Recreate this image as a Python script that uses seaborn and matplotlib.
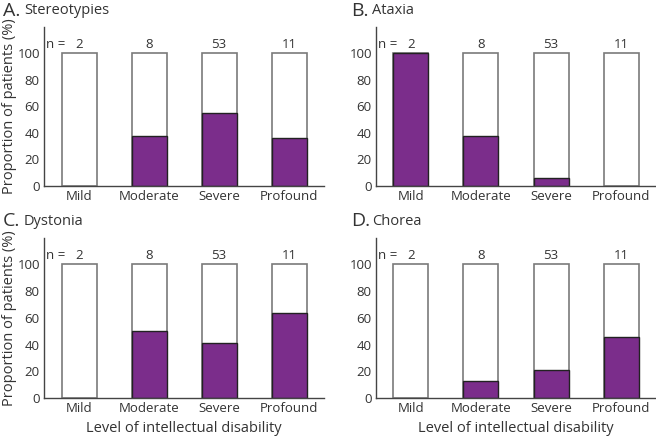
import matplotlib
matplotlib.use("Agg")
import matplotlib.pyplot as plt
import seaborn as sns
import pandas as pd

# datos
niveles = ["Mild", "Moderate", "Severe", "Profound"]
n_pacientes = [2, 8, 53, 11]
estereotipias = [0, 37.5, 54.7, 36.4]
ataxia = [100, 37.5, 5.7, 0]
distonia = [0, 50.0, 41.5, 63.6]
corea = [0, 12.5, 20.8, 45.5]

paneles = [
    ("A.", "Stereotypies", estereotipias),
    ("B.", "Ataxia", ataxia),
    ("C.", "Dystonia", distonia),
    ("D.", "Chorea", corea),
]

morado = "#7b2d8b"
gris = "#7a7a7a"
texto = "#333333"

sns.set_style("white")
plt.rcParams["font.family"] = ["Open Sans", "DejaVu Sans"]
plt.rcParams["text.color"] = texto
plt.rcParams["axes.labelcolor"] = texto
plt.rcParams["xtick.color"] = texto
plt.rcParams["ytick.color"] = texto

W, H = 656, 437
fig = plt.figure(figsize=(W / 100, H / 100), dpi=100)

# posiciones en pixeles: (izquierda, arriba, abajo)
cajas = [(44, 27, 186), (376, 27, 186), (44, 238, 398), (376, 238, 398)]
titulos_pos = [(3, 11), (351, 11), (3, 221), (351, 221)]

for i, (letra, nombre, valores) in enumerate(paneles):
    izq, arriba, abajo = cajas[i]
    ax = fig.add_axes([izq / W, 1 - abajo / H, 280 / W, (abajo - arriba) / H])

    df = pd.DataFrame({"nivel": niveles, "total": [100] * 4, "pct": valores})

    sns.barplot(data=df, x="nivel", y="total", color="white",
                edgecolor=gris, linewidth=1.2, width=0.5, ax=ax)
    sns.barplot(data=df, x="nivel", y="pct", color=morado,
                edgecolor="#222222", linewidth=1.0, width=0.5, ax=ax,
                saturation=1)
    # sin borde negro en barras de altura cero
    for p in ax.patches[4:]:
        if p.get_height() == 0:
            p.set_linewidth(0)

    escala = 100 / (abajo - arriba - 25)
    ax.set_ylim(0, 100 + 25 * escala * 1.07)
    ax.set_xlim(-0.5, 3.5)
    ax.set_yticks([0, 20, 40, 60, 80, 100])
    ax.tick_params(axis="y", length=0, labelsize=9.5, pad=3)
    ax.tick_params(axis="x", length=0, labelsize=9.5, pad=3)
    ax.set_xlabel("Level of intellectual disability" if i >= 2 else "",
                  fontsize=10.5, labelpad=4)
    if i % 2 == 0:
        ax.set_ylabel("Proportion of patients (%)", fontsize=10.5)
        ax.yaxis.set_label_coords(-27 / 280, 0.5)
    else:
        ax.set_ylabel("")

    for s in ["top", "right"]:
        ax.spines[s].set_visible(False)
    for s in ["left", "bottom"]:
        ax.spines[s].set_color("#444444")
        ax.spines[s].set_linewidth(1.0)

    ax.text(-0.33, 102, "n =", ha="center", va="bottom", fontsize=9.5)
    for j, n in enumerate(n_pacientes):
        ax.text(j, 102, str(n), ha="center", va="bottom", fontsize=9.5)

    tx, ty = titulos_pos[i]
    fig.text(tx / W, 1 - ty / H, letra, fontsize=14, va="center", ha="left")
    fig.text((tx + 21) / W, 1 - ty / H, nombre, fontsize=10.5, va="center", ha="left")

fig.savefig("out.png", dpi=100)
